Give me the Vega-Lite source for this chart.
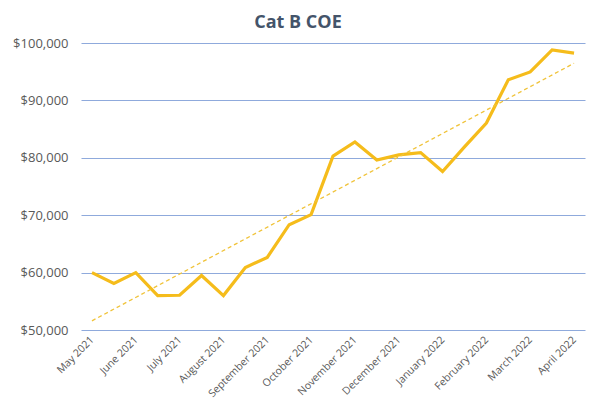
{
  "$schema": "https://vega.github.io/schema/vega-lite/v6.json",
  "autosize": {"type": "none"},
  "padding": {"left": 81, "top": 43, "right": 15, "bottom": 70},
  "width": 504,
  "height": 287,
  "background": "#ffffff",
  "title": {
    "text": "Cat B COE",
    "font": "Open Sans",
    "fontSize": 18,
    "fontWeight": "bold",
    "color": "#44546A",
    "dx": -35,
    "offset": 5
  },
  "data": {
    "values": [
      {"n": 1, "cost": 60000},
      {"n": 2, "cost": 58100},
      {"n": 3, "cost": 60000},
      {"n": 4, "cost": 56000},
      {"n": 5, "cost": 56050},
      {"n": 6, "cost": 59500},
      {"n": 7, "cost": 56000},
      {"n": 8, "cost": 60900},
      {"n": 9, "cost": 62650},
      {"n": 10, "cost": 68350},
      {"n": 11, "cost": 70100},
      {"n": 12, "cost": 80300},
      {"n": 13, "cost": 82750},
      {"n": 14, "cost": 79600},
      {"n": 15, "cost": 80500},
      {"n": 16, "cost": 80900},
      {"n": 17, "cost": 77600},
      {"n": 18, "cost": 81900},
      {"n": 19, "cost": 86050},
      {"n": 20, "cost": 93600},
      {"n": 21, "cost": 94950},
      {"n": 22, "cost": 98800},
      {"n": 23, "cost": 98250}
    ]
  },
  "encoding": {
    "x": {
      "field": "n",
      "type": "quantitative",
      "scale": {"domain": [0.5, 23.5], "nice": false, "zero": false},
      "axis": {
        "title": null,
        "values": [1, 3, 5, 7, 9, 11, 13, 15, 17, 19, 21, 23],
        "labelExpr": "['May 2021','June 2021','July 2021','August 2021','September 2021','October 2021','November 2021','December 2021','January 2022','February 2022','March 2022','April 2022'][(datum.value - 1) / 2]",
        "labelAngle": -45,
        "labelAlign": "right",
        "labelBaseline": "middle",
        "labelOverlap": false,
        "labelBound": false,
        "labelFlush": false,
        "labelPadding": 8,
        "labelFont": "Open Sans",
        "labelFontSize": 10.5,
        "labelColor": "#595959",
        "grid": false,
        "ticks": false,
        "domain": false
      }
    },
    "y": {
      "field": "cost",
      "type": "quantitative",
      "scale": {"domain": [50000, 100000], "nice": false, "zero": false},
      "axis": {
        "title": null,
        "values": [50000, 60000, 70000, 80000, 90000, 100000],
        "format": "$,.0f",
        "labelFont": "Open Sans",
        "labelFontSize": 13,
        "labelColor": "#595959",
        "labelPadding": 13,
        "grid": true,
        "gridColor": "#8FAADC",
        "gridWidth": 1.2,
        "gridOpacity": 1,
        "ticks": false,
        "domain": false
      }
    }
  },
  "layer": [
    {
      "mark": {"type": "line", "color": "#F5BC1B", "strokeWidth": 3.2, "strokeJoin": "miter"}
    },
    {
      "transform": [{"regression": "cost", "on": "n", "extent": [1, 23]}],
      "mark": {"type": "line", "color": "#F0C33A", "strokeWidth": 1.3, "strokeDash": [4, 3]}
    }
  ],
  "config": {"view": {"stroke": null}}
}
